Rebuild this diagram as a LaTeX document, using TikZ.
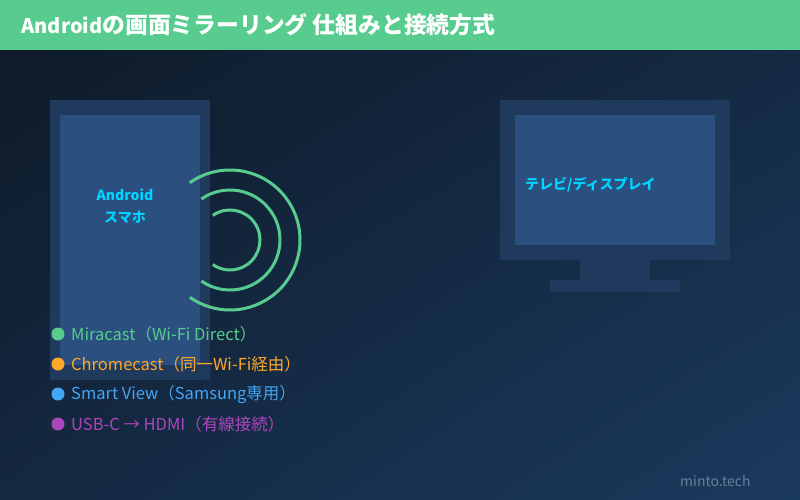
\documentclass[tikz,border=0pt]{standalone}
\usepackage{fontspec}
\setmainfont{Noto Sans CJK JP}
\usetikzlibrary{positioning,shadings}

\definecolor{barGreen}{HTML}{57CC8E}
\definecolor{bgDark}{HTML}{0E1927}
\definecolor{bgMid}{HTML}{142840}
\definecolor{bgLight}{HTML}{1A3A5E}
\definecolor{frameBlue}{HTML}{1F3A5C}
\definecolor{screenBlue}{HTML}{2B5080}
\definecolor{labelCyan}{HTML}{00D4FF}
\definecolor{dotOrange}{HTML}{FFA726}
\definecolor{dotBlue}{HTML}{42A5F5}
\definecolor{dotPurple}{HTML}{AB47BC}
\definecolor{markGray}{HTML}{6B7F99}

\begin{document}
\begin{tikzpicture}[x=1pt,y=-1pt,
    devlabel/.style={text=labelCyan,font=\bfseries\fontsize{14}{22}\selectfont},
    legendtext/.style={anchor=west,inner sep=0pt,font=\fontsize{16.5}{18}\selectfont},
    wave/.style={draw=barGreen,line width=3pt}]
  \useasboundingbox (0,0) rectangle (800,500);
  % background and title bar
  \shade[upper left=bgDark,upper right=bgMid,lower left=bgMid,lower right=bgLight] (0,0) rectangle (800,500);
  \fill[barGreen] (0,0) rectangle (800,50);
  \node[anchor=west,text=white,font=\bfseries\fontsize{20}{24}\selectfont] (title) at (18,25)
    {Android{\fontsize{22.8}{24}\selectfont の画面ミラーリング 仕組みと接続方式}};

  % phone
  \fill[frameBlue] (50,100) rectangle (210,380);
  \fill[screenBlue] (60,115) rectangle (200,365);
  \node[devlabel,align=center] (phonelbl) at (125,206) {Android\\スマホ};

  % signal waves
  \coordinate (src) at (230,240);
  \draw[wave] (src) ++(-125:30) arc (-125:125:30);
  \draw[wave] (src) ++(-125:50) arc (-125:125:50);
  \draw[wave] (src) ++(-125:70) arc (-125:125:70);

  % tv
  \fill[frameBlue] (500,100) rectangle (730,260);
  \fill[screenBlue] (515,115) rectangle (715,245);
  \fill[frameBlue] (580,260) rectangle (650,280);
  \fill[frameBlue] (550,280) rectangle (680,292);
  \node[devlabel,anchor=west,inner sep=0pt] (tvlbl) at (525,185) {テレビ/ディスプレイ};

  % legend
  \fill[barGreen] (58,334) circle (6.5);
  \node[legendtext,text=barGreen] (miracast) at (71,334) {Miracast（Wi-Fi Direct）};
  \fill[dotOrange] (58,364) circle (6.5);
  \node[legendtext,text=dotOrange] (chromecast) at (71,364) {Chromecast（同一Wi-Fi経由）};
  \fill[dotBlue] (58,394) circle (6.5);
  \node[legendtext,text=dotBlue] (smartview) at (71,394) {Smart View（Samsung専用）};
  \fill[dotPurple] (58,424) circle (6.5);
  \node[legendtext,text=dotPurple] (usbc) at (71,424) {USB-C → HDMI（有線接続）};

  \node[anchor=west,inner sep=0pt,text=markGray,font=\fontsize{14}{16}\selectfont] (mark) at (680,481) {minto.tech};
\end{tikzpicture}
\end{document}
